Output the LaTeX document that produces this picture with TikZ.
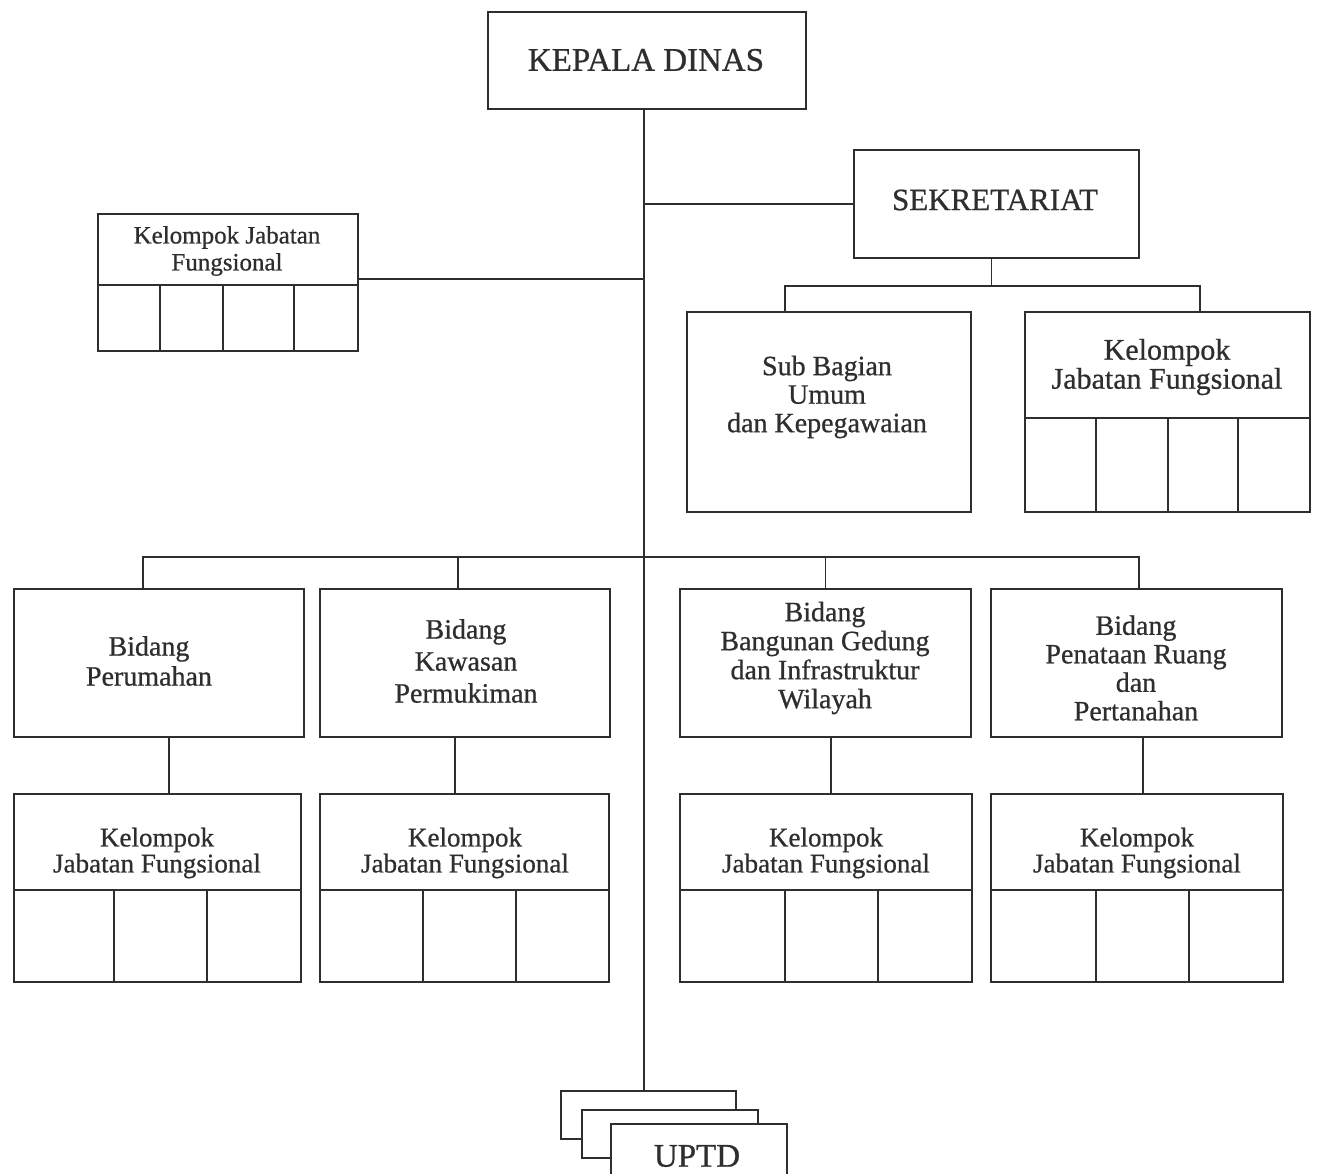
\documentclass[tikz,border=0pt]{standalone}
\usepackage{fontspec}
\setmainfont{Liberation Serif}[FakeBold=0.7]
\definecolor{ink}{gray}{0.18}
\begin{document}
\begin{tikzpicture}[x=1pt,y=-1pt,
  box/.style={draw=ink, line width=1.8pt, fill=white, inner sep=0pt, anchor=north west},
  wire/.style={draw=ink, line width=1.8pt},
  txt/.style={align=center, inner sep=0pt, text=ink},
  fs/.style 2 args={font=\fontsize{#1}{#2}\selectfont}]
\useasboundingbox (0,0) rectangle (1317,1173);
\fill[white] (0,0) rectangle (1317,1173);

% top level
\node[box, minimum width=318pt, minimum height=97pt] (kd) at (487,11) {};
\node[txt, fs={33}{36}] (kdt) at (646,60) {KEPALA DINAS};

\node[box, minimum width=285pt, minimum height=108pt] (sek) at (853,149) {};
\node[txt, fs={31}{34}] (sekt) at (995,200) {SEKRETARIAT};

% functional group beside the head
\node[box, minimum width=260pt, minimum height=137pt] (kjf0) at (97,213) {};
\draw[wire] (97,285) -- (357,285);
\foreach \x in {160,223,294} \draw[wire] (\x,285) -- (\x,350);
\node[txt, fs={25}{27}] (kjf0t) at (227,251) {Kelompok Jabatan\\Fungsional};

% secretariat units
\node[box, minimum width=284pt, minimum height=200pt] (sub) at (686,311) {};
\node[txt, fs={28}{28.5}] (subt) at (827,397) {Sub Bagian\\Umum\\dan Kepegawaian};

\node[box, minimum width=285pt, minimum height=200pt] (kjfs) at (1024,311) {};
\draw[wire] (1024,418) -- (1309,418);
\foreach \x in {1096,1168,1238} \draw[wire] (\x,418) -- (\x,511);
\node[txt, fs={30}{29}] (kjfst) at (1167,367) {Kelompok\\Jabatan Fungsional};

% fields
\node[box, minimum width=290pt, minimum height=148pt] (b1) at (13,588) {};
\node[txt, fs={28}{30}] (b1t) at (149,661) {Bidang\\Perumahan};
\node[box, minimum width=290pt, minimum height=148pt] (b2) at (319,588) {};
\node[txt, fs={28}{32}] (b2t) at (466,661) {Bidang\\Kawasan\\Permukiman};
\node[box, minimum width=291pt, minimum height=148pt] (b3) at (679,588) {};
\node[txt, fs={28}{29}] (b3t) at (825,658) {Bidang\\Bangunan Gedung\\dan Infrastruktur\\Wilayah};
\node[box, minimum width=291pt, minimum height=148pt] (b4) at (990,588) {};
\node[txt, fs={28}{28.5}] (b4t) at (1136,668) {Bidang\\Penataan Ruang\\dan\\Pertanahan};

% functional groups under the fields
\node[box, minimum width=287pt, minimum height=188pt] (k1) at (13,793) {};
\draw[wire] (13,890) -- (300,890);
\foreach \x in {114,207} \draw[wire] (\x,890) -- (\x,981);
\node[txt, fs={27}{26}] (k1t) at (157,853) {Kelompok\\Jabatan Fungsional};

\node[box, minimum width=289pt, minimum height=188pt] (k2) at (319,793) {};
\draw[wire] (319,890) -- (608,890);
\foreach \x in {423,516} \draw[wire] (\x,890) -- (\x,981);
\node[txt, fs={27}{26}] (k2t) at (465,853) {Kelompok\\Jabatan Fungsional};

\node[box, minimum width=292pt, minimum height=188pt] (k3) at (679,793) {};
\draw[wire] (679,890) -- (971,890);
\foreach \x in {785,878} \draw[wire] (\x,890) -- (\x,981);
\node[txt, fs={27}{26}] (k3t) at (826,853) {Kelompok\\Jabatan Fungsional};

\node[box, minimum width=292pt, minimum height=188pt] (k4) at (990,793) {};
\draw[wire] (990,890) -- (1282,890);
\foreach \x in {1096,1189} \draw[wire] (\x,890) -- (\x,981);
\node[txt, fs={27}{26}] (k4t) at (1137,853) {Kelompok\\Jabatan Fungsional};

% stacked technical units
\node[box, minimum width=175pt, minimum height=48pt] (u1) at (560,1090) {};
\node[box, minimum width=176pt, minimum height=48pt] (u2) at (581,1109) {};
\node[box, minimum width=176pt, minimum height=70pt] (u3) at (610,1123) {};
\node[txt, fs={33}{36}] (u3t) at (697,1156) {UPTD};

% connectors
\coordinate (trunk) at ([xshift=-3pt]kd.south);
\draw[wire] (trunk) -- (trunk |- u1.north);
\draw[wire] (sek.west) -- (sek.west -| trunk);
\coordinate (kjf0p) at ([yshift=-66pt]kjf0.north east);
\draw[wire] (kjf0p) -- (kjf0p -| trunk);

\coordinate (sekbus) at ([xshift=-5pt,yshift=-27pt]sek.south);
\coordinate (sekd) at ([xshift=-5pt]sek.south);
\coordinate (subd) at ([xshift=-44pt]sub.north);
\coordinate (kjfsd) at ([xshift=32.5pt]kjfs.north);
\draw[wire] (sekd) -- (sekbus);
\draw[wire] (subd) |- (sekbus) -| (kjfsd);

\coordinate (bbus) at (trunk |- 0,557);
\coordinate (d1) at ([xshift=-16pt]b1.north);
\coordinate (d2) at ([xshift=-7pt]b2.north);
\coordinate (d3) at (b3.north);
\coordinate (d4) at ([xshift=2.5pt]b4.north);
\draw[wire] (d1) |- (bbus) -| (d4);
\draw[wire] (d2) -- (d2 |- bbus);
\draw[wire] (d3) -- (d3 |- bbus);

\coordinate (v1) at ([xshift=10pt]b1.south);
\coordinate (v2) at ([xshift=-10pt]b2.south);
\coordinate (v3) at ([xshift=5.5pt]b3.south);
\coordinate (v4) at ([xshift=6.5pt]b4.south);
\draw[wire] (v1) -- (v1 |- k1.north);
\draw[wire] (v2) -- (v2 |- k2.north);
\draw[wire] (v3) -- (v3 |- k3.north);
\draw[wire] (v4) -- (v4 |- k4.north);
\end{tikzpicture}
\end{document}
